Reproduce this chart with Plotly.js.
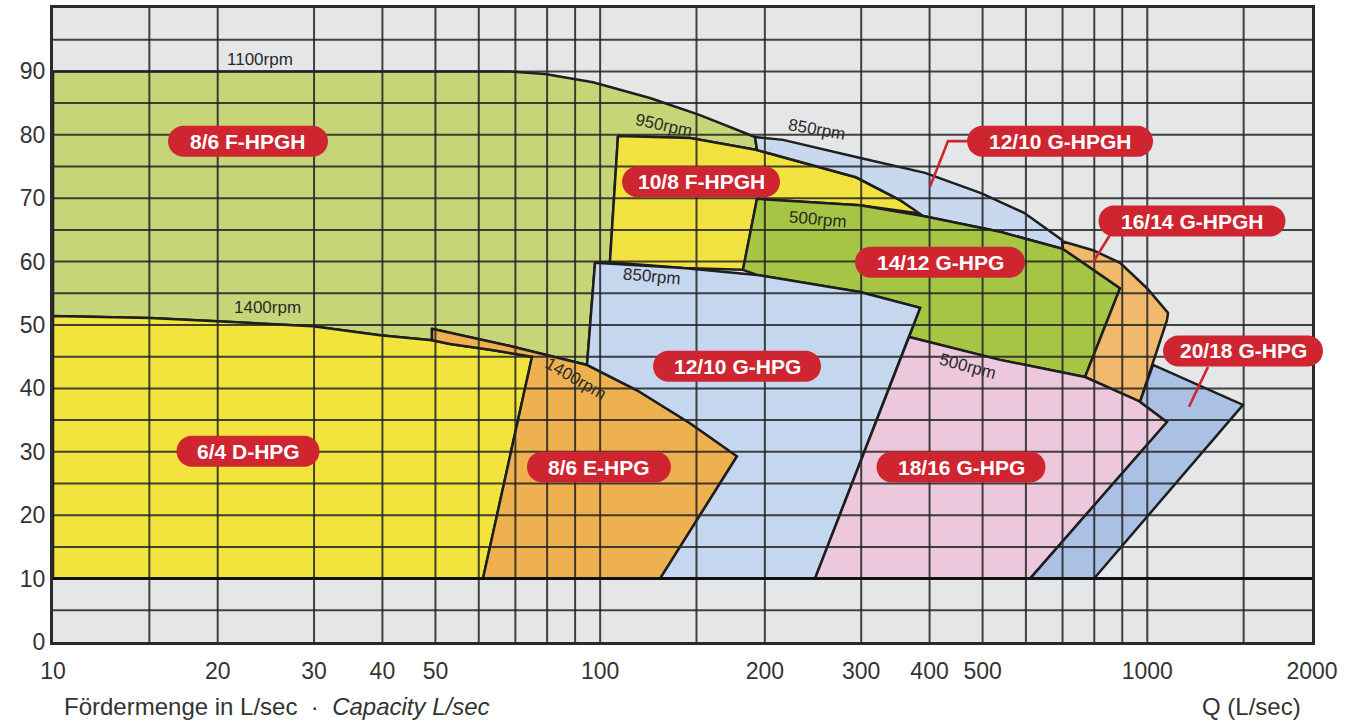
<!DOCTYPE html>
<html><head><meta charset="utf-8">
<script src="https://cdn.plot.ly/plotly-3.0.1.min.js"></script>
<style>html,body{margin:0;padding:0;background:#fff;}#chart{width:1353px;height:724px;}</style>
</head><body><div id="chart"></div>
<script>
// ---------- axis ticks ----------
const xTickVals = [10, 20, 30, 40, 50, 100, 200, 300, 400, 500, 1000, 2000];
const xTickText = ["10", "20", "30", "40", "50", "100", "200", "300", "400", "500", "1000", "2000"];
const xGridVals = [15, 20, 30, 40, 50, 60, 70, 80, 90, 100, 150, 200, 300, 400, 500, 600, 700, 800, 900, 1000, 1500];
const yTickVals = [0, 10, 20, 30, 40, 50, 60, 70, 80, 90];
const yGridVals = [5, 10, 15, 20, 25, 30, 35, 40, 45, 50, 55, 60, 65, 70, 75, 80, 85, 90, 95];

// ---------- pump ranges: Q (L/sec) and H (m) ----------
const q_86F = [10, 68.4, 79.3, 97.0, 123.3, 152.2, 191.9, 193.5, 146.0, 107.8, 104.2, 97.86, 94.63, 68.42, 49.28, 49.28, 39.59, 29.87, 19.94, 15.04, 10];
const h_86F = [90, 90, 89.6, 88.3, 85.8, 83.1, 79.65, 77.6, 79.5, 79.8, 59.9, 59.8, 43.7, 46.7, 49.4, 47.6, 48.4, 49.8, 50.6, 51.1, 51.4];

const q_64D = [10, 15.04, 19.94, 29.87, 39.59, 49.28, 53.18, 62.90, 75.07, 61.08, 10];
const h_64D = [51.4, 51.1, 50.6, 49.8, 48.4, 47.6, 47.0, 46.1, 45.0, 10, 10];

const q_86E = [49.28, 68.42, 94.63, 116.8, 146.0, 177.9, 128.7, 61.08, 75.07, 62.90, 53.18, 49.28];
const h_86E = [49.4, 46.7, 43.7, 39.7, 34.5, 29.3, 10, 10, 45.0, 46.1, 47.0, 47.6];

const q_108F = [107.8, 146.0, 193.5, 293.5, 353.3, 389.2, 298.5, 193.5, 182.4, 141.7, 104.2];
const h_108F = [79.8, 79.5, 77.6, 73.3, 69.7, 67.5, 68.9, 69.9, 58.7, 59.0, 59.9];

const q_1210GH = [191.9, 215.9, 293.5, 353.3, 392.5, 496.7, 595.3, 698.5, 701.5, 538.1, 389.2, 353.3, 293.5, 193.5];
const h_1210GH = [79.65, 79.2, 76.5, 74.9, 74.0, 70.8, 67.7, 63.4, 62.0, 64.7, 67.2, 69.7, 73.3, 77.6];

const q_1412G = [193.5, 298.5, 389.2, 538.1, 701.5, 891.6, 769.4, 538.1, 366.9, 384.3, 298.5, 193.5, 182.4];
const h_1412G = [69.9, 68.9, 67.2, 64.7, 62.0, 55.8, 41.8, 44.5, 48.1, 52.7, 55.2, 57.9, 58.7];

const q_1210G = [97.86, 141.7, 193.5, 298.5, 384.3, 247.0, 128.7, 177.9, 146.0, 116.8, 94.63];
const h_1210G = [59.8, 59.0, 57.9, 55.2, 52.7, 10, 10, 29.3, 34.5, 39.7, 43.7];

const q_1614GH = [698.5, 795.8, 891.6, 998.8, 1091.2, 1086.6, 970.0, 769.4, 891.6, 701.5];
const h_1614GH = [63.2, 61.8, 59.8, 55.8, 51.9, 50.8, 37.9, 41.8, 55.8, 62.0];

const q_1816G = [366.9, 538.1, 769.4, 970.0, 1086.6, 610.5, 247.0];
const h_1816G = [48.1, 44.5, 41.8, 37.9, 34.7, 10, 10];

const q_2018G = [1024.4, 1496, 799.2, 610.5, 1086.6, 970.0];
const h_2018G = [43.7, 37.4, 10, 10, 34.7, 37.9];

// ---------- labels ----------
const pumpNames = ["8/6 F-HPGH", "10/8 F-HPGH", "12/10 G-HPGH", "16/14 G-HPGH", "14/12 G-HPG", "12/10 G-HPG", "20/18 G-HPG", "8/6 E-HPG", "6/4 D-HPG", "18/16 G-HPG"];
const pumpLabelQ = [22.72, 152.9, 692.7, 1207, 418.0, 177.9, 1496, 99.5, 22.72, 456.6];
const pumpLabelH = [79.0, 72.6, 79.0, 66.4, 59.9, 43.5, 45.9, 27.6, 30.1, 27.6];

const rpmText = ["1100rpm", "950rpm", "850rpm", "500rpm", "1400rpm", "850rpm", "1400rpm", "500rpm"];
const rpmQ = [23.9, 130.9, 249.1, 250, 24.7, 124.4, 90.0, 470.2];
const rpmH = [91.8, 81.4, 80.8, 66.7, 52.7, 57.7, 41.5, 43.5];

// leader lines (Q,H pairs)
const leaderQ = [[692.7, 432.3, 400.7], [862, 795.8], [1291, 1192]];
const leaderH = [[79.0, 79.0, 71.8], [64.7, 59.9], [43.4, 37.1]];

// ---------- styling ----------
const regions = [
  {q: q_86F, h: h_86F, color: '#c6d577'},
  {q: q_64D, h: h_64D, color: '#f2e33d'},
  {q: q_86E, h: h_86E, color: '#efb14f'},
  {q: q_108F, h: h_108F, color: '#f2e240'},
  {q: q_1210GH, h: h_1210GH, color: '#c8d9ef'},
  {q: q_1412G, h: h_1412G, color: '#a6c545'},
  {q: q_1210G, h: h_1210G, color: '#c5d7ee'},
  {q: q_1614GH, h: h_1614GH, color: '#f0b96c'},
  {q: q_1816G, h: h_1816G, color: '#edc7dc'},
  {q: q_2018G, h: h_2018G, color: '#aac0e4'}
];
const pillW = [160, 158, 186, 187, 170, 168, 160, 144, 143, 169];
const pillH = 31;
const RED = '#cf2530';
const GRID = 'rgba(35,35,35,0.85)';
const FONT = 'Liberation Sans, Arial, sans-serif';
const PILLFONT = 'Liberation Sans Narrow, Liberation Sans, Arial, sans-serif';

const W = 1259, H = 634;
const X_LO = 1, X_HI = Math.log10(2000), Y_LO = 0, Y_HI = 100;
const toPX = q => (Math.log10(q) - X_LO) / (X_HI - X_LO);
const toPY = h => (h - Y_LO) / (Y_HI - Y_LO);

const traces = regions.map(r => ({
  type: 'scatter', mode: 'lines',
  x: r.q.concat([r.q[0]]), y: r.h.concat([r.h[0]]),
  fill: 'toself', fillcolor: r.color,
  line: {color: '#1e1e1e', width: 2.5},
  hoverinfo: 'skip', showlegend: false
}));

const shapes = [];
xGridVals.forEach(v => shapes.push({type: 'line', layer: 'above', xref: 'paper', yref: 'paper',
  x0: toPX(v), x1: toPX(v), y0: 0, y1: 1, line: {color: GRID, width: 2}}));
yGridVals.forEach(v => shapes.push({type: 'line', layer: 'above', xref: 'paper', yref: 'y',
  x0: 0, x1: 1, y0: v, y1: v, line: {color: v === 10 ? '#111' : GRID, width: v === 10 ? 3 : 2}}));

leaderQ.forEach((qs, i) => {
  let d = '';
  qs.forEach((q, j) => { d += (j ? ' L' : 'M') + toPX(q).toFixed(5) + ',' + toPY(leaderH[i][j]).toFixed(5); });
  shapes.push({type: 'path', layer: 'above', xref: 'paper', yref: 'paper', path: d, line: {color: RED, width: 2.6}});
});

function pillPath(q, h, w, hh) {
  const cx = toPX(q) * W, cy = toPY(h) * H, r = hh / 2, k = 0.5523 * r;
  const L = cx - w / 2, R = cx + w / 2, T = cy + r, B = cy - r;
  const P = (a, b) => (a / W).toFixed(5) + ',' + (b / H).toFixed(5);
  return `M${P(L + r, T)} L${P(R - r, T)} C${P(R - r + k, T)} ${P(R, cy + k)} ${P(R, cy)} C${P(R, cy - k)} ${P(R - r + k, B)} ${P(R - r, B)} L${P(L + r, B)} C${P(L + r - k, B)} ${P(L, cy - k)} ${P(L, cy)} C${P(L, cy + k)} ${P(L + r - k, T)} ${P(L + r, T)} Z`;
}
pumpNames.forEach((n, i) => shapes.push({type: 'path', layer: 'above', xref: 'paper', yref: 'paper',
  path: pillPath(pumpLabelQ[i], pumpLabelH[i], pillW[i], pillH), fillcolor: RED, line: {width: 0}}));

const rpmAngle = [0, 12, 10, 5, 0, 5, 30, 15];
const annotations = [];
rpmText.forEach((t, i) => annotations.push({text: t, xref: 'paper', yref: 'paper', x: toPX(rpmQ[i]), y: toPY(rpmH[i]),
  xanchor: 'center', yanchor: 'middle',
  showarrow: false, textangle: rpmAngle[i], font: {family: FONT, size: 17, color: '#2a2a2a'}}));
pumpNames.forEach((n, i) => annotations.push({text: '<b>' + n + '</b>', xref: 'paper', yref: 'paper',
  x: toPX(pumpLabelQ[i]), y: toPY(pumpLabelH[i]), xanchor: 'center', yanchor: 'middle',
  showarrow: false, font: {family: PILLFONT, size: 21, color: '#ffffff'}}));
annotations.push({text: 'Fördermenge in L/sec  ·  <i>Capacity L/sec</i>', xref: 'paper', yref: 'paper',
  x: (62 - 53) / W, y: -(706 - 642) / H, xanchor: 'left', yanchor: 'middle', showarrow: false,
  font: {family: FONT, size: 24, color: '#333'}});
annotations.push({text: 'Q (L/sec)', xref: 'paper', yref: 'paper',
  x: (1303 - 53) / W, y: -(706 - 642) / H, xanchor: 'right', yanchor: 'middle', showarrow: false,
  font: {family: FONT, size: 24, color: '#333'}});

const layout = {
  width: 1353, height: 724,
  margin: {l: 53, r: 41, t: 8, b: 82, pad: 0},
  paper_bgcolor: '#ffffff', plot_bgcolor: '#e5e6e8',
  showlegend: false,
  xaxis: {type: 'log', range: [X_LO, X_HI], tickmode: 'array', tickvals: xTickVals, ticktext: xTickText,
    showgrid: false, zeroline: false, showline: true, mirror: true, linecolor: '#2a2a2a', linewidth: 3,
    ticks: '', ticklabelstandoff: 6, tickfont: {family: FONT, size: 23, color: '#333'}, fixedrange: true},
  yaxis: {range: [Y_LO, Y_HI], tickmode: 'array', tickvals: yTickVals,
    showgrid: false, zeroline: false, showline: true, mirror: true, linecolor: '#2a2a2a', linewidth: 3,
    ticks: '', ticklabelstandoff: 0, tickfont: {family: FONT, size: 23, color: '#333'}, fixedrange: true},
  shapes: shapes,
  annotations: annotations
};

Plotly.newPlot('chart', traces, layout, {staticPlot: true, displayModeBar: false});
</script>
</body></html>
